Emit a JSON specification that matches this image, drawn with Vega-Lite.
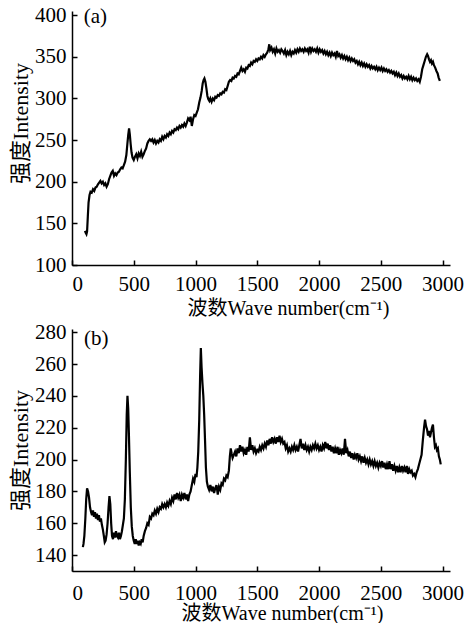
{
  "$schema": "https://vega.github.io/schema/vega-lite/v6.json",
  "padding": {"left": 9, "top": 4, "right": 5, "bottom": 0},
  "spacing": 3,
  "config": {
    "view": {"stroke": null},
    "font": "Liberation Serif, Noto Sans CJK SC",
    "axis": {
      "grid": false,
      "domainColor": "#000",
      "domainWidth": 1.5,
      "tickColor": "#000",
      "tickWidth": 1.5,
      "tickSize": -5,
      "labelColor": "#000",
      "titleColor": "#000",
      "labelFont": "Liberation Serif",
      "labelFontSize": 21,
      "labelOverlap": false,
      "labelBound": false,
      "format": "d",
      "titleFont": "Liberation Serif, Noto Sans CJK SC",
      "titleFontSize": 20,
      "titleFontWeight": "normal"
    }
  },
  "datasets": {
    "a": [
      {"x":105,"y":141},{"x":110,"y":139},{"x":117,"y":137},{"x":122,"y":140},{"x":128,"y":158},{"x":134,"y":175},{"x":142,"y":184},{"x":150,"y":188},{"x":160,"y":187},{"x":170,"y":191},{"x":180,"y":189},{"x":190,"y":193},{"x":200,"y":194},{"x":210,"y":197},{"x":220,"y":199},{"x":230,"y":201},{"x":240,"y":198},{"x":250,"y":200},{"x":260,"y":196},{"x":270,"y":198},{"x":280,"y":194},{"x":290,"y":197},{"x":300,"y":203},{"x":310,"y":207},{"x":320,"y":211},{"x":330,"y":213},{"x":340,"y":207},{"x":350,"y":210},{"x":360,"y":208},{"x":370,"y":211},{"x":380,"y":212},{"x":390,"y":215},{"x":400,"y":217},{"x":410,"y":216},{"x":420,"y":220},{"x":430,"y":224},{"x":440,"y":232},{"x":448,"y":245},{"x":455,"y":256},{"x":462,"y":264},{"x":468,"y":257},{"x":475,"y":245},{"x":482,"y":235},{"x":490,"y":229},{"x":500,"y":226},{"x":510,"y":230},{"x":520,"y":233},{"x":530,"y":228},{"x":540,"y":234},{"x":550,"y":231},{"x":560,"y":236},{"x":570,"y":230},{"x":580,"y":233},{"x":590,"y":237},{"x":600,"y":240},{"x":610,"y":246},{"x":620,"y":249},{"x":630,"y":251},{"x":640,"y":249},{"x":650,"y":251},{"x":660,"y":247},{"x":670,"y":250},{"x":680,"y":246},{"x":690,"y":249},{"x":700,"y":247},{"x":710,"y":251},{"x":720,"y":249},{"x":730,"y":254},{"x":740,"y":251},{"x":750,"y":255},{"x":760,"y":253},{"x":770,"y":257},{"x":780,"y":255},{"x":790,"y":259},{"x":800,"y":257},{"x":810,"y":261},{"x":820,"y":259},{"x":830,"y":263},{"x":840,"y":262},{"x":850,"y":265},{"x":860,"y":263},{"x":870,"y":267},{"x":880,"y":265},{"x":890,"y":268},{"x":900,"y":266},{"x":910,"y":270},{"x":920,"y":267},{"x":930,"y":271},{"x":940,"y":276},{"x":950,"y":274},{"x":960,"y":278},{"x":970,"y":267},{"x":980,"y":275},{"x":990,"y":280},{"x":1000,"y":279},{"x":1010,"y":283},{"x":1020,"y":287},{"x":1030,"y":295},{"x":1040,"y":301},{"x":1050,"y":309},{"x":1058,"y":318},{"x":1065,"y":322},{"x":1072,"y":324},{"x":1080,"y":320},{"x":1088,"y":312},{"x":1096,"y":303},{"x":1104,"y":299},{"x":1112,"y":297},{"x":1120,"y":300},{"x":1130,"y":296},{"x":1140,"y":300},{"x":1150,"y":298},{"x":1160,"y":302},{"x":1170,"y":301},{"x":1180,"y":304},{"x":1190,"y":303},{"x":1200,"y":306},{"x":1210,"y":305},{"x":1220,"y":308},{"x":1230,"y":307},{"x":1240,"y":311},{"x":1250,"y":310},{"x":1260,"y":315},{"x":1270,"y":320},{"x":1280,"y":322},{"x":1290,"y":321},{"x":1300,"y":325},{"x":1310,"y":324},{"x":1320,"y":327},{"x":1330,"y":326},{"x":1340,"y":330},{"x":1350,"y":329},{"x":1360,"y":333},{"x":1370,"y":337},{"x":1380,"y":333},{"x":1390,"y":335},{"x":1400,"y":332},{"x":1410,"y":337},{"x":1420,"y":336},{"x":1430,"y":340},{"x":1440,"y":339},{"x":1450,"y":343},{"x":1460,"y":341},{"x":1470,"y":345},{"x":1480,"y":344},{"x":1490,"y":347},{"x":1500,"y":345},{"x":1510,"y":348},{"x":1520,"y":347},{"x":1530,"y":350},{"x":1540,"y":348},{"x":1550,"y":352},{"x":1560,"y":350},{"x":1570,"y":353},{"x":1580,"y":355},{"x":1590,"y":359},{"x":1597,"y":365},{"x":1604,"y":358},{"x":1615,"y":361},{"x":1625,"y":356},{"x":1635,"y":359},{"x":1645,"y":354},{"x":1655,"y":360},{"x":1665,"y":356},{"x":1675,"y":358},{"x":1685,"y":355},{"x":1695,"y":359},{"x":1705,"y":357},{"x":1715,"y":354},{"x":1725,"y":358},{"x":1735,"y":352},{"x":1745,"y":356},{"x":1755,"y":353},{"x":1765,"y":357},{"x":1775,"y":352},{"x":1785,"y":356},{"x":1795,"y":354},{"x":1805,"y":358},{"x":1815,"y":355},{"x":1825,"y":359},{"x":1835,"y":356},{"x":1845,"y":360},{"x":1855,"y":357},{"x":1865,"y":359},{"x":1875,"y":356},{"x":1885,"y":360},{"x":1895,"y":357},{"x":1905,"y":359},{"x":1915,"y":355},{"x":1925,"y":362},{"x":1935,"y":356},{"x":1945,"y":360},{"x":1955,"y":357},{"x":1965,"y":359},{"x":1975,"y":356},{"x":1985,"y":360},{"x":1995,"y":355},{"x":2005,"y":359},{"x":2015,"y":356},{"x":2025,"y":358},{"x":2035,"y":354},{"x":2045,"y":357},{"x":2055,"y":353},{"x":2065,"y":356},{"x":2075,"y":352},{"x":2085,"y":355},{"x":2095,"y":351},{"x":2105,"y":355},{"x":2115,"y":352},{"x":2125,"y":354},{"x":2135,"y":350},{"x":2145,"y":357},{"x":2155,"y":351},{"x":2165,"y":353},{"x":2175,"y":349},{"x":2185,"y":352},{"x":2195,"y":348},{"x":2205,"y":351},{"x":2215,"y":347},{"x":2225,"y":350},{"x":2235,"y":346},{"x":2245,"y":349},{"x":2255,"y":345},{"x":2265,"y":348},{"x":2275,"y":345},{"x":2285,"y":347},{"x":2295,"y":343},{"x":2305,"y":345},{"x":2315,"y":341},{"x":2325,"y":344},{"x":2335,"y":340},{"x":2345,"y":343},{"x":2355,"y":339},{"x":2365,"y":342},{"x":2375,"y":338},{"x":2385,"y":341},{"x":2395,"y":338},{"x":2405,"y":340},{"x":2415,"y":336},{"x":2425,"y":339},{"x":2435,"y":336},{"x":2445,"y":338},{"x":2455,"y":335},{"x":2465,"y":338},{"x":2475,"y":334},{"x":2485,"y":337},{"x":2495,"y":334},{"x":2505,"y":337},{"x":2515,"y":333},{"x":2525,"y":336},{"x":2535,"y":333},{"x":2545,"y":335},{"x":2555,"y":332},{"x":2565,"y":334},{"x":2575,"y":331},{"x":2585,"y":333},{"x":2595,"y":330},{"x":2605,"y":332},{"x":2615,"y":328},{"x":2625,"y":331},{"x":2635,"y":327},{"x":2645,"y":330},{"x":2655,"y":326},{"x":2665,"y":328},{"x":2675,"y":324},{"x":2685,"y":327},{"x":2695,"y":324},{"x":2705,"y":326},{"x":2715,"y":323},{"x":2725,"y":327},{"x":2735,"y":323},{"x":2745,"y":326},{"x":2755,"y":322},{"x":2765,"y":325},{"x":2775,"y":322},{"x":2785,"y":324},{"x":2795,"y":321},{"x":2805,"y":323},{"x":2815,"y":320},{"x":2825,"y":326},{"x":2835,"y":335},{"x":2845,"y":340},{"x":2855,"y":345},{"x":2865,"y":350},{"x":2875,"y":353},{"x":2882,"y":351},{"x":2890,"y":347},{"x":2898,"y":344},{"x":2906,"y":346},{"x":2914,"y":342},{"x":2922,"y":344},{"x":2930,"y":340},{"x":2940,"y":337},{"x":2950,"y":333},{"x":2960,"y":330},{"x":2968,"y":325},{"x":2978,"y":321}
    ],
    "b": [
      {"x":88,"y":145},{"x":93,"y":147},{"x":100,"y":152},{"x":108,"y":163},{"x":115,"y":175},{"x":122,"y":182},{"x":130,"y":180},{"x":138,"y":176},{"x":146,"y":170},{"x":154,"y":167},{"x":162,"y":165},{"x":170,"y":168},{"x":178,"y":164},{"x":186,"y":167},{"x":194,"y":163},{"x":202,"y":166},{"x":210,"y":162},{"x":218,"y":165},{"x":226,"y":161},{"x":234,"y":163},{"x":242,"y":159},{"x":250,"y":156},{"x":258,"y":152},{"x":265,"y":148},{"x":272,"y":149},{"x":280,"y":153},{"x":288,"y":160},{"x":296,"y":170},{"x":303,"y":177},{"x":310,"y":172},{"x":317,"y":160},{"x":324,"y":152},{"x":332,"y":150},{"x":340,"y":154},{"x":348,"y":151},{"x":356,"y":155},{"x":364,"y":152},{"x":372,"y":151},{"x":380,"y":154},{"x":388,"y":150},{"x":396,"y":152},{"x":404,"y":155},{"x":412,"y":159},{"x":420,"y":163},{"x":428,"y":175},{"x":436,"y":200},{"x":443,"y":228},{"x":449,"y":240},{"x":455,"y":232},{"x":461,"y":215},{"x":468,"y":192},{"x":476,"y":170},{"x":484,"y":158},{"x":492,"y":152},{"x":500,"y":149},{"x":508,"y":147},{"x":516,"y":150},{"x":524,"y":147},{"x":532,"y":149},{"x":540,"y":146},{"x":548,"y":148},{"x":556,"y":147},{"x":564,"y":150},{"x":572,"y":148},{"x":580,"y":152},{"x":590,"y":155},{"x":600,"y":157},{"x":610,"y":160},{"x":620,"y":159},{"x":630,"y":164},{"x":640,"y":163},{"x":650,"y":166},{"x":660,"y":165},{"x":670,"y":168},{"x":680,"y":166},{"x":690,"y":169},{"x":700,"y":167},{"x":710,"y":170},{"x":720,"y":169},{"x":730,"y":172},{"x":740,"y":170},{"x":750,"y":172},{"x":760,"y":170},{"x":770,"y":173},{"x":780,"y":171},{"x":790,"y":174},{"x":800,"y":172},{"x":810,"y":176},{"x":820,"y":174},{"x":830,"y":178},{"x":840,"y":175},{"x":850,"y":179},{"x":860,"y":176},{"x":870,"y":178},{"x":880,"y":174},{"x":890,"y":178},{"x":900,"y":176},{"x":910,"y":179},{"x":920,"y":175},{"x":930,"y":178},{"x":940,"y":174},{"x":950,"y":178},{"x":960,"y":180},{"x":970,"y":184},{"x":980,"y":188},{"x":990,"y":186},{"x":1000,"y":191},{"x":1008,"y":189},{"x":1015,"y":195},{"x":1022,"y":205},{"x":1030,"y":225},{"x":1037,"y":252},{"x":1043,"y":270},{"x":1049,"y":258},{"x":1056,"y":248},{"x":1063,"y":240},{"x":1070,"y":228},{"x":1077,"y":212},{"x":1084,"y":195},{"x":1092,"y":186},{"x":1100,"y":183},{"x":1110,"y":181},{"x":1120,"y":184},{"x":1130,"y":180},{"x":1140,"y":183},{"x":1150,"y":179},{"x":1160,"y":182},{"x":1170,"y":184},{"x":1180,"y":178},{"x":1190,"y":183},{"x":1200,"y":181},{"x":1210,"y":185},{"x":1220,"y":184},{"x":1230,"y":188},{"x":1240,"y":187},{"x":1250,"y":190},{"x":1260,"y":189},{"x":1270,"y":193},{"x":1278,"y":202},{"x":1285,"y":207},{"x":1292,"y":204},{"x":1300,"y":201},{"x":1310,"y":203},{"x":1320,"y":205},{"x":1330,"y":202},{"x":1340,"y":207},{"x":1350,"y":204},{"x":1360,"y":209},{"x":1370,"y":205},{"x":1380,"y":208},{"x":1390,"y":204},{"x":1400,"y":206},{"x":1410,"y":203},{"x":1420,"y":208},{"x":1430,"y":205},{"x":1440,"y":214},{"x":1450,"y":206},{"x":1460,"y":209},{"x":1470,"y":205},{"x":1480,"y":207},{"x":1490,"y":204},{"x":1500,"y":206},{"x":1510,"y":205},{"x":1520,"y":208},{"x":1530,"y":206},{"x":1540,"y":209},{"x":1550,"y":207},{"x":1560,"y":210},{"x":1570,"y":208},{"x":1580,"y":212},{"x":1590,"y":209},{"x":1600,"y":213},{"x":1610,"y":210},{"x":1620,"y":214},{"x":1630,"y":211},{"x":1640,"y":213},{"x":1650,"y":210},{"x":1660,"y":214},{"x":1670,"y":211},{"x":1680,"y":215},{"x":1690,"y":211},{"x":1700,"y":213},{"x":1710,"y":210},{"x":1720,"y":211},{"x":1730,"y":207},{"x":1740,"y":209},{"x":1750,"y":205},{"x":1760,"y":207},{"x":1770,"y":205},{"x":1780,"y":208},{"x":1790,"y":206},{"x":1800,"y":209},{"x":1810,"y":206},{"x":1820,"y":208},{"x":1830,"y":205},{"x":1840,"y":209},{"x":1850,"y":213},{"x":1860,"y":207},{"x":1870,"y":210},{"x":1880,"y":206},{"x":1890,"y":209},{"x":1900,"y":206},{"x":1910,"y":208},{"x":1920,"y":205},{"x":1930,"y":208},{"x":1940,"y":206},{"x":1950,"y":209},{"x":1960,"y":207},{"x":1970,"y":210},{"x":1980,"y":207},{"x":1990,"y":209},{"x":2000,"y":206},{"x":2010,"y":208},{"x":2020,"y":205},{"x":2030,"y":209},{"x":2040,"y":207},{"x":2050,"y":211},{"x":2060,"y":207},{"x":2070,"y":210},{"x":2080,"y":206},{"x":2090,"y":209},{"x":2100,"y":205},{"x":2110,"y":208},{"x":2120,"y":204},{"x":2130,"y":207},{"x":2140,"y":204},{"x":2150,"y":208},{"x":2160,"y":203},{"x":2170,"y":206},{"x":2180,"y":204},{"x":2190,"y":207},{"x":2200,"y":203},{"x":2210,"y":213},{"x":2220,"y":204},{"x":2230,"y":206},{"x":2240,"y":202},{"x":2250,"y":205},{"x":2260,"y":201},{"x":2270,"y":204},{"x":2280,"y":200},{"x":2290,"y":203},{"x":2300,"y":201},{"x":2310,"y":204},{"x":2320,"y":200},{"x":2330,"y":202},{"x":2340,"y":199},{"x":2350,"y":202},{"x":2360,"y":198},{"x":2370,"y":201},{"x":2380,"y":198},{"x":2390,"y":200},{"x":2400,"y":197},{"x":2410,"y":200},{"x":2420,"y":197},{"x":2430,"y":199},{"x":2440,"y":196},{"x":2450,"y":199},{"x":2460,"y":196},{"x":2470,"y":198},{"x":2480,"y":195},{"x":2490,"y":198},{"x":2500,"y":196},{"x":2510,"y":199},{"x":2520,"y":195},{"x":2530,"y":198},{"x":2540,"y":194},{"x":2550,"y":197},{"x":2560,"y":194},{"x":2570,"y":199},{"x":2580,"y":194},{"x":2590,"y":197},{"x":2600,"y":193},{"x":2610,"y":196},{"x":2620,"y":193},{"x":2630,"y":196},{"x":2640,"y":192},{"x":2650,"y":195},{"x":2660,"y":192},{"x":2670,"y":196},{"x":2680,"y":193},{"x":2690,"y":195},{"x":2700,"y":192},{"x":2710,"y":196},{"x":2720,"y":191},{"x":2730,"y":194},{"x":2740,"y":192},{"x":2750,"y":193},{"x":2760,"y":190},{"x":2770,"y":191},{"x":2780,"y":189},{"x":2790,"y":192},{"x":2800,"y":194},{"x":2810,"y":197},{"x":2820,"y":200},{"x":2830,"y":203},{"x":2840,"y":212},{"x":2850,"y":220},{"x":2858,"y":225},{"x":2866,"y":221},{"x":2874,"y":219},{"x":2882,"y":215},{"x":2890,"y":218},{"x":2898,"y":214},{"x":2906,"y":217},{"x":2914,"y":220},{"x":2922,"y":222},{"x":2930,"y":214},{"x":2938,"y":208},{"x":2946,"y":209},{"x":2954,"y":206},{"x":2962,"y":207},{"x":2970,"y":202},{"x":2978,"y":200},{"x":2985,"y":197}
    ]
  },
  "vconcat": [
    {
      "width": 378,
      "height": 254,
      "layer": [
        {
          "data": {"name": "a"},
          "mark": {"type": "line", "color": "#000", "strokeWidth": 2.2},
          "encoding": {
            "x": {"field": "x", "type": "quantitative", "scale": {"domain": [0, 3060], "nice": false},
                  "axis": {"title": "波数Wave number(cm⁻¹)", "values": [0,500,1000,1500,2000,2500,3000], "labelPadding": 13, "titlePadding": 4, "titleX": 216}},
            "y": {"field": "y", "type": "quantitative", "scale": {"domain": [100, 405], "nice": false},
                  "axis": {"title": "强度Intensity", "values": [100,150,200,250,300,350,400], "labelPadding": 11, "titlePadding": 2, "titleFontSize": 22, "titleY": 112}}
          }
        },
        {
          "data": {"values": [{"label": "(a)"}]},
          "mark": {"type": "text", "font": "Liberation Serif", "fontSize": 21, "align": "left", "baseline": "middle", "dy": 2},
          "encoding": {"text": {"field": "label"}, "x": {"datum": 95, "type": "quantitative"}, "y": {"datum": 400, "type": "quantitative"}}
        }
      ]
    },
    {
      "width": 378,
      "height": 242,
      "title": {"text": "(b)", "anchor": "start", "orient": "top", "frame": "group", "dx": 12, "offset": -28, "font": "Liberation Serif", "fontSize": 21, "fontWeight": "normal", "color": "#000"},
      "data": {"name": "b"},
      "mark": {"type": "line", "color": "#000", "strokeWidth": 2.2},
      "encoding": {
        "x": {"field": "x", "type": "quantitative", "scale": {"domain": [0, 3060], "nice": false},
              "axis": {"title": "波数Wave number(cm⁻¹)", "values": [0,500,1000,1500,2000,2500,3000], "labelPadding": 16, "titlePadding": 0, "titleX": 210}},
        "y": {"field": "y", "type": "quantitative", "scale": {"domain": [130, 282], "nice": false},
              "axis": {"title": "强度Intensity", "values": [140,160,180,200,220,240,260,280], "labelPadding": 11, "labelOverlap": false, "labelBound": false, "titlePadding": 2, "titleFontSize": 22}}
      }
    }
  ]
}
